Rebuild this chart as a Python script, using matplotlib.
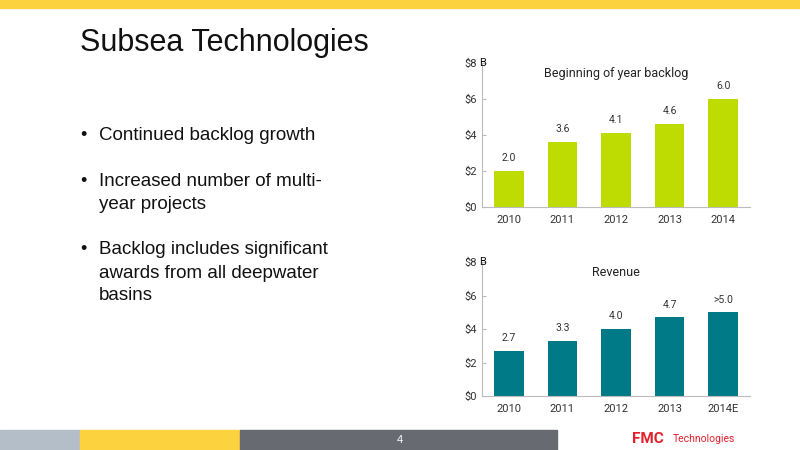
import matplotlib
matplotlib.use("Agg")
import matplotlib.pyplot as plt
from matplotlib.patches import Rectangle

plt.rcParams['font.family'] = ['Liberation Sans', 'DejaVu Sans']
CF = ['Roboto', 'DejaVu Sans']

years_backlog = ["2010", "2011", "2012", "2013", "2014"]
backlog = [2.0, 3.6, 4.1, 4.6, 6.0]
backlog_labels = ["2.0", "3.6", "4.1", "4.6", "6.0"]
years_rev = ["2010", "2011", "2012", "2013", "2014E"]
revenue = [2.7, 3.3, 4.0, 4.7, 5.0]
revenue_labels = ["2.7", "3.3", "4.0", "4.7", ">5.0"]
yticks = [0, 2, 4, 6, 8]
ytick_labels = ["$0", "$2", "$4", "$6", "$8"]

W, H = 800, 450
fig = plt.figure(figsize=(8, 4.5), dpi=100)
fig.patch.set_facecolor("white")

def rect(x, y, w, h, c):
    fig.patches.append(Rectangle((x / W, 1 - (y + h) / H), w / W, h / H,
                                 transform=fig.transFigure, color=c, zorder=0))

rect(0, 0, 800, 8, "#FDD23F")
rect(0, 430, 80, 20, "#B4BEC8")
rect(80, 430, 160, 20, "#FDD23F")
rect(240, 430, 317, 20, "#676A70")
fig.text(400 / W, 1 - 440 / H, "4", color="white", fontsize=8, ha="center", va="center")
fig.text(632 / W, 1 - 439 / H, "FMC", color="#E4202C", fontsize=11, fontweight="bold",
         ha="left", va="center", family=CF)
fig.text(673 / W, 1 - 439 / H, "Technologies", color="#E4202C", fontsize=7.5,
         ha="left", va="center", family=CF)

fig.text(80 / W, 1 - 43 / H, "Subsea Technologies", fontsize=22, color="#111111",
         ha="left", va="center")
bullets = [(135, ["Continued backlog growth"]),
           (182, ["Increased number of multi-", "year projects"]),
           (250, ["Backlog includes significant", "awards from all deepwater", "basins"])]
for y, lines in bullets:
    fig.text(80 / W, 1 - y / H, "•", fontsize=13, ha="left", va="center", color="#111111")
    for i, ln in enumerate(lines):
        fig.text(99 / W, 1 - (y + i * 23) / H, ln, fontsize=13.5, ha="left", va="center",
                 color="#111111")

def chart(top, bottom, cats, vals, labels, color, title):
    left, right = 482, 750
    ax = fig.add_axes([left / W, 1 - bottom / H, (right - left) / W, (bottom - top) / H])
    x = range(len(cats))
    ax.bar(x, vals, width=0.55, color=color, zorder=2)
    for xi, v, l in zip(x, vals, labels):
        ax.text(xi, v + 0.45, l, ha="center", va="bottom", fontsize=7.5, color="#333333",
                family=CF)
    ax.set_ylim(0, 8)
    ax.set_xlim(-0.5, len(cats) - 0.5)
    ax.set_yticks(yticks)
    ax.set_yticklabels(ytick_labels, fontsize=8, color="#333333", family=CF)
    ax.set_xticks(list(x))
    ax.set_xticklabels(cats, fontsize=8, color="#333333", family=CF)
    ax.tick_params(axis="x", length=0, pad=6)
    ax.tick_params(axis="y", length=3, color="#BBBBBB", direction="in", pad=4)
    for s in ["top", "right"]:
        ax.spines[s].set_visible(False)
    ax.spines["left"].set_color("#BBBBBB")
    ax.spines["bottom"].set_color("#BBBBBB")
    ax.text(-0.55, 8, "B", fontsize=8, ha="left", va="center", color="#111111",
            clip_on=False, family=CF)
    ax.text(2, 7.4, title, fontsize=9, ha="center", va="center", color="#222222", family=CF)

chart(63, 207, years_backlog, backlog, backlog_labels, "#BFDC02", "Beginning of year backlog")
chart(262, 396, years_rev, revenue, revenue_labels, "#007A87", "Revenue")

fig.savefig("out.png", dpi=100)
